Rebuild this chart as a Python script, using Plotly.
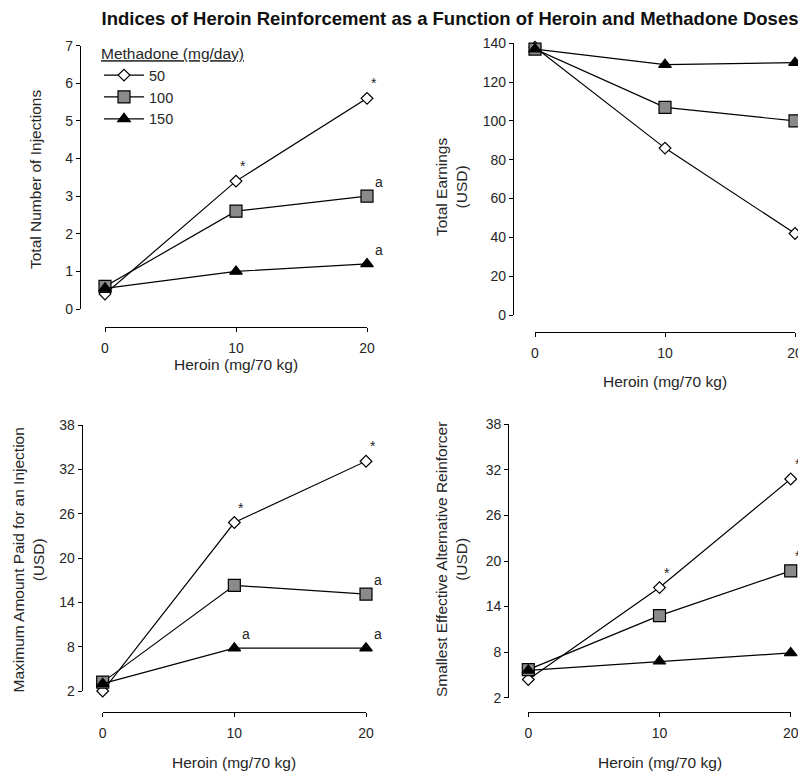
import plotly.graph_objects as go

PAGE_W, PAGE_H = 806, 771
OFF = 8  # default page body margin
W, H = PAGE_W - OFF, PAGE_H - OFF

# ---------------- data ----------------
heroin = [0, 10, 20]
methadone_labels = ["50", "100", "150"]

inj_50 = [0.4, 3.4, 5.6]
inj_100 = [0.6, 2.6, 3.0]
inj_150 = [0.55, 1.0, 1.2]

earn_50 = [138, 86, 42]
earn_100 = [137, 107, 100]
earn_150 = [137, 129, 130]

maxpaid_50 = [2.0, 24.8, 33.1]
maxpaid_100 = [3.2, 16.3, 15.1]
maxpaid_150 = [3.0, 7.8, 7.8]

smallest_50 = [4.4, 16.5, 30.8]
smallest_100 = [5.7, 12.8, 18.7]
smallest_150 = [5.6, 6.8, 7.9]

# significance marks per point
inj_sig = [["", "*", "*"], ["", "", "a"], ["", "", "a"]]
earn_sig = [["", "", "*"], ["", "", "a"], ["", "", "a"]]
maxpaid_sig = [["", "*", "*"], ["", "", "a"], ["", "a", "a"]]
smallest_sig = [["", "*", "*"], ["", "", "*"], ["", "", "a"]]

title_text = "Indices of Heroin Reinforcement as a Function of Heroin and Methadone Doses"
x_title = "Heroin (mg/70 kg)"
y_titles = ["Total Number of Injections",
            "Total Earnings<br>(USD)",
            "Maximum Amount Paid for an Injection<br>(USD)",
            "Smallest Effective Alternative Reinforcer<br>(USD)"]

FONT = "Liberation Sans, Arial, sans-serif"
TXT = "#262626"


def px(x):
    return (x - OFF) / W


def py(y):
    return 1 - (y - OFF) / H


styles = [
    dict(symbol="diamond", color="white", size=9),
    dict(symbol="square", color="#8a8a8a", size=12),
    dict(symbol="triangle-up", color="black", size=11),
]

# panel geometry (page pixels)
panels = [
    dict(series=[inj_50, inj_100, inj_150], sig=inj_sig,
         xdom=(105, 367), ydom=(309, 45.7), yr=(0, 7), dtick=1,
         ypos=80, xpos=327, ylab_x=35, ylab_y=180, xlab_y=364),
    dict(series=[earn_50, earn_100, earn_150], sig=earn_sig,
         xdom=(535, 795), ydom=(315, 43.3), yr=(0, 140), dtick=20,
         ypos=513, xpos=331.7, ylab_x=451, ylab_y=187, xlab_y=381),
    dict(series=[maxpaid_50, maxpaid_100, maxpaid_150], sig=maxpaid_sig,
         xdom=(102.7, 366), ydom=(691, 425), yr=(2, 38), dtick=6,
         ypos=81.7, xpos=711.7, ylab_x=27.5, ylab_y=560, xlab_y=762),
    dict(series=[smallest_50, smallest_100, smallest_150], sig=smallest_sig,
         xdom=(528.3, 790.7), ydom=(697.7, 424.3), yr=(2, 38), dtick=6,
         ypos=508.3, xpos=711.7, ylab_x=451, ylab_y=560, xlab_y=762),
]

SIG_SHIFT = {"*": (7, 15), "a": (12, 14)}

fig = go.Figure()
annotations = []
layout_axes = {}

for i, p in enumerate(panels):
    n = "" if i == 0 else str(i + 1)
    xa, ya = "x" + n, "y" + n
    for j, vals in enumerate(p["series"]):
        st = styles[j]
        fig.add_trace(go.Scatter(
            x=heroin, y=vals, xaxis=xa, yaxis=ya,
            mode="lines+markers", name=methadone_labels[j],
            showlegend=(i == 0), cliponaxis=False,
            line=dict(color="black", width=1.2),
            marker=dict(symbol=st["symbol"], size=st["size"], color=st["color"],
                        line=dict(color="black", width=1.2)),
        ))
        for k, s in enumerate(p["sig"][j]):
            if s:
                xs, ys = SIG_SHIFT[s]
                annotations.append(dict(
                    x=heroin[k], y=vals[k], xref=xa, yref=ya, text=s,
                    showarrow=False, xshift=xs, yshift=ys,
                    xanchor="center", yanchor="middle",
                    font=dict(family=FONT, size=14, color=TXT)))
    common = dict(showline=True, linecolor="black", linewidth=1.2,
                  ticks="outside", ticklen=4, tickcolor="black", tickwidth=1.2,
                  showgrid=False, zeroline=False, automargin=False,
                  tickfont=dict(family=FONT, size=14, color=TXT))
    layout_axes["xaxis" + n] = dict(
        domain=[px(p["xdom"][0]), px(p["xdom"][1])], range=[0, 20],
        tickvals=heroin, anchor="free", position=py(p["xpos"]),
        ticklabelstandoff=4, **common)
    layout_axes["yaxis" + n] = dict(
        domain=[py(p["ydom"][0]), py(p["ydom"][1])], range=list(p["yr"]),
        dtick=p["dtick"], tick0=p["yr"][0], anchor="free",
        position=px(p["ypos"]), **common)
    # axis titles
    annotations.append(dict(
        x=px(p["ylab_x"]), y=py(p["ylab_y"]), xref="paper", yref="paper",
        xanchor="center", yanchor="middle",
        text=y_titles[i], textangle=-90, showarrow=False,
        font=dict(family=FONT, size=15.5, color=TXT)))
    annotations.append(dict(
        x=px((p["xdom"][0] + p["xdom"][1]) / 2), y=py(p["xlab_y"]),
        xref="paper", yref="paper", xanchor="center", yanchor="middle",
        text=x_title, showarrow=False,
        font=dict(family=FONT, size=15.5, color=TXT)))

fig.update_layout(
    template="none",
    width=W, height=H,
    margin=dict(l=0, r=0, t=0, b=0, pad=0, autoexpand=False),
    paper_bgcolor="white", plot_bgcolor="white",
    font=dict(family=FONT, color=TXT),
    title=dict(text="<b>" + title_text + "</b>", x=px(450), xanchor="center",
               y=py(19), yanchor="middle",
               font=dict(family=FONT, size=18.5, color="#111")),
    legend=dict(x=px(99), y=py(39), xanchor="left", yanchor="top",
                bgcolor="rgba(0,0,0,0)", borderwidth=0,
                itemwidth=40,
                title=dict(text="<u>Methadone (mg/day)</u>",
                           font=dict(family=FONT, size=15.5, color=TXT)),
                font=dict(family=FONT, size=14.5, color=TXT),
                tracegroupgap=0),
    annotations=annotations,
    **layout_axes,
)

fig.write_html("out.html")
